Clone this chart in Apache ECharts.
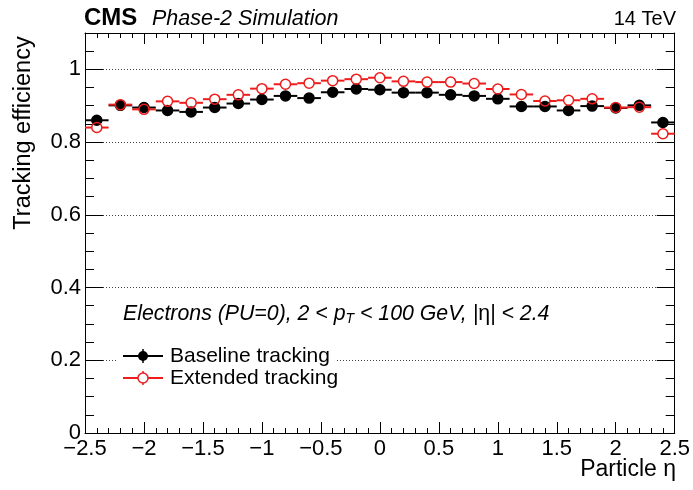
<!DOCTYPE html>
<html>
<head>
<meta charset="utf-8">
<script src="https://cdn.jsdelivr.net/npm/echarts@6/dist/echarts.min.js"></script>
<style>
html, body { margin: 0; background: #fff; }
#chart { width: 693px; height: 490px; }
</style>
</head>
<body>
<div id="chart"></div>
<script>
// bin centres in eta, bins are 0.2 wide
const etaCenters = [-2.4, -2.2, -2.0, -1.8, -1.6, -1.4, -1.2, -1.0, -0.8, -0.6, -0.4, -0.2, 0,
  0.2, 0.4, 0.6, 0.8, 1.0, 1.2, 1.4, 1.6, 1.8, 2.0, 2.2, 2.4]
const binHalfWidth = 0.1
const baselineEff = [0.860, 0.901, 0.895, 0.887, 0.883, 0.895, 0.906, 0.917, 0.927, 0.921, 0.937, 0.946, 0.944,
  0.936, 0.936, 0.930, 0.927, 0.919, 0.898, 0.898, 0.887, 0.899, 0.894, 0.901, 0.854]
const extendedEff = [0.840, 0.903, 0.890, 0.912, 0.908, 0.918, 0.930, 0.947, 0.959, 0.962, 0.969, 0.973, 0.977,
  0.967, 0.965, 0.965, 0.961, 0.946, 0.931, 0.913, 0.915, 0.919, 0.895, 0.896, 0.823]

const FONT = 'Liberation Sans, Arial, sans-serif'
const RED = '#ee1c1c'

const minus = v => (v < 0 ? '\u2212' + Math.abs(v) : String(v))

// horizontal bin-width bar + marker, like a ROOT TGraphErrors point
function pointRender (color, filled) {
  return function (params, api) {
    const x = api.value(0)
    const y = api.value(1)
    const c = api.coord([x, y])
    const lo = api.coord([x - binHalfWidth, y])
    const hi = api.coord([x + binHalfWidth, y])
    const r = 5
    return {
      type: 'group',
      children: [
        { type: 'line', shape: { x1: lo[0], y1: c[1], x2: c[0] - r, y2: c[1] }, style: { stroke: color, lineWidth: 2 } },
        { type: 'line', shape: { x1: c[0] + r, y1: c[1], x2: hi[0], y2: c[1] }, style: { stroke: color, lineWidth: 2 } },
        { type: 'circle', shape: { cx: c[0], cy: c[1], r: r }, style: { fill: filled ? color : 'none', stroke: color, lineWidth: 1.5 } }
      ]
    }
  }
}

const frameLine = { show: true, onZero: false, lineStyle: { color: '#000', width: 1 } }

function xAx (pos, labels) {
  return {
    type: 'value', position: pos, min: -2.5, max: 2.5, interval: 0.5,
    axisLine: frameLine,
    axisTick: { show: true, inside: true, length: 11, lineStyle: { color: '#000' } },
    minorTick: { show: true, splitNumber: 5, length: 5, lineStyle: { color: '#000' } },
    axisLabel: { show: labels, formatter: minus, color: '#000', fontSize: 22, fontFamily: FONT, margin: 5 },
    splitLine: { show: false }
  }
}

function yAx (pos, major) {
  return {
    type: 'value', position: pos, min: 0, max: 1.1, interval: major ? 0.2 : 0.05,
    axisLine: major ? frameLine : { show: false, onZero: false },
    axisTick: { show: true, inside: true, length: major ? 18 : 9, lineStyle: { color: '#000' } },
    axisLabel: { show: major && pos === 'left', showMaxLabel: false, color: '#000', fontSize: 22, fontFamily: FONT, margin: 4 },
    splitLine: { show: major && pos === 'left', lineStyle: { color: '#444', width: 1, type: [1, 2] } }
  }
}

const chart = echarts.init(document.getElementById('chart'))
chart.setOption({
  animation: false,
  backgroundColor: '#fff',
  grid: { left: 85, right: 17, top: 33, bottom: 57 },
  xAxis: [xAx('bottom', true), xAx('top', false)],
  yAxis: [yAx('left', true), yAx('left', false), yAx('right', true), yAx('right', false)],
  series: [
    {
      name: 'Baseline tracking', type: 'custom', xAxisIndex: 0, yAxisIndex: 0,
      renderItem: pointRender('#000', true),
      encode: { x: 0, y: 1 },
      data: etaCenters.map((x, i) => [x, baselineEff[i]])
    },
    {
      name: 'Extended tracking', type: 'custom', xAxisIndex: 0, yAxisIndex: 0,
      renderItem: pointRender(RED, false),
      encode: { x: 0, y: 1 },
      data: etaCenters.map((x, i) => [x, extendedEff[i]])
    }
  ],
  graphic: [
    { type: 'text', x: 84, y: 18, style: { text: 'CMS', font: 'bold 24px ' + FONT, fill: '#000', textVerticalAlign: 'middle', verticalAlign: 'middle' } },
    { type: 'text', x: 152, y: 19, style: { text: 'Phase-2 Simulation', font: 'italic 21.5px ' + FONT, fill: '#000', textVerticalAlign: 'middle', verticalAlign: 'middle' } },
    { type: 'text', x: 676, y: 19, style: { text: '14 TeV', font: '20px ' + FONT, fill: '#000', textAlign: 'right', align: 'right', textVerticalAlign: 'middle', verticalAlign: 'middle' } },
    {
      type: 'text', x: 24, y: 133, rotation: Math.PI / 2,
      style: { text: 'Tracking efficiency', font: '23.5px ' + FONT, fill: '#000', textAlign: 'center', align: 'center', textVerticalAlign: 'middle', verticalAlign: 'middle' }
    },
    { type: 'text', x: 676, y: 470, style: { text: 'Particle \u03b7', font: '23px ' + FONT, fill: '#000', textAlign: 'right', align: 'right', textVerticalAlign: 'middle', verticalAlign: 'middle' } },
    {
      type: 'text', x: 123, y: 314, z: 50,
      style: {
        text: '{i|Electrons (PU=0), 2 < p}{s|T}{i| < 100 GeV, |}{e|\u03b7}{i|| < 2.4}',
        fill: '#000', textVerticalAlign: 'middle', verticalAlign: 'middle',
        rich: {
          i: { fontFamily: FONT, fontStyle: 'italic', fontSize: 21.3, lineHeight: 25 },
          s: { fontFamily: FONT, fontStyle: 'italic', fontSize: 14, lineHeight: 15, verticalAlign: 'bottom' },
          e: { fontFamily: FONT, fontSize: 21.3, lineHeight: 25 }
        }
      }
    },
    // legend box, drawn above the grid lines
    {
      type: 'group', z: 50,
      children: [
        { type: 'rect', z: 50, shape: { x: 118, y: 343, width: 218, height: 48 }, style: { fill: '#fff' } },
        { type: 'line', z: 51, shape: { x1: 123, y1: 356, x2: 163, y2: 356 }, style: { stroke: '#000', lineWidth: 2 } },
        { type: 'line', z: 51, shape: { x1: 143, y1: 349, x2: 143, y2: 363 }, style: { stroke: '#000', lineWidth: 1.5 } },
        { type: 'circle', z: 52, shape: { cx: 143, cy: 356, r: 5 }, style: { fill: '#000' } },
        { type: 'text', z: 51, x: 170, y: 356, style: { text: 'Baseline tracking', font: '21px ' + FONT, fill: '#000', textVerticalAlign: 'middle', verticalAlign: 'middle' } },
        { type: 'line', z: 51, shape: { x1: 123, y1: 378, x2: 138, y2: 378 }, style: { stroke: RED, lineWidth: 2 } },
        { type: 'line', z: 51, shape: { x1: 148, y1: 378, x2: 163, y2: 378 }, style: { stroke: RED, lineWidth: 2 } },
        { type: 'line', z: 51, shape: { x1: 143, y1: 371, x2: 143, y2: 373 }, style: { stroke: RED, lineWidth: 1.5 } },
        { type: 'line', z: 51, shape: { x1: 143, y1: 383, x2: 143, y2: 385 }, style: { stroke: RED, lineWidth: 1.5 } },
        { type: 'circle', z: 52, shape: { cx: 143, cy: 378, r: 5 }, style: { fill: 'none', stroke: RED, lineWidth: 1.5 } },
        { type: 'text', z: 51, x: 170, y: 378, style: { text: 'Extended tracking', font: '21px ' + FONT, fill: '#000', textVerticalAlign: 'middle', verticalAlign: 'middle' } }
      ]
    }
  ]
})
</script>
</body>
</html>
